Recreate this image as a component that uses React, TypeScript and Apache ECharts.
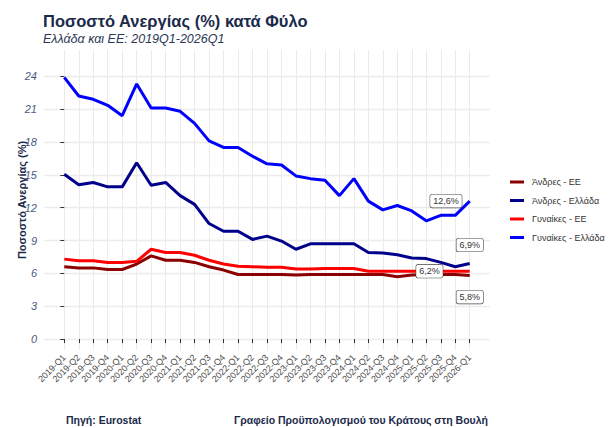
import React, { useEffect, useRef } from "react";
import * as echarts from "echarts";

const categories = [
  "2019-Q1", "2019-Q2", "2019-Q3", "2019-Q4",
  "2020-Q1", "2020-Q2", "2020-Q3", "2020-Q4",
  "2021-Q1", "2021-Q2", "2021-Q3", "2021-Q4",
  "2022-Q1", "2022-Q2", "2022-Q3", "2022-Q4",
  "2023-Q1", "2023-Q2", "2023-Q3", "2023-Q4",
  "2024-Q1", "2024-Q2", "2024-Q3", "2024-Q4",
  "2025-Q1", "2025-Q2", "2025-Q3", "2025-Q4",
  "2026-Q1",
];

const menEU = [6.6, 6.5, 6.5, 6.35, 6.35, 6.85, 7.6, 7.2, 7.2, 7.0, 6.6, 6.3, 5.9, 5.9, 5.9, 5.9, 5.85, 5.9, 5.9, 5.9, 5.9, 5.9, 5.9, 5.7, 5.85, 5.9, 5.9, 5.9, 5.8];
const menGR = [15.05, 14.1, 14.3, 13.9, 13.9, 16.1, 14.05, 14.3, 13.1, 12.3, 10.55, 9.85, 9.85, 9.1, 9.4, 8.95, 8.2, 8.7, 8.7, 8.7, 8.7, 7.9, 7.85, 7.7, 7.4, 7.35, 7.0, 6.6, 6.9];
const womenEU = [7.3, 7.15, 7.15, 7.0, 7.0, 7.1, 8.2, 7.9, 7.9, 7.65, 7.2, 6.85, 6.65, 6.6, 6.55, 6.55, 6.4, 6.4, 6.45, 6.45, 6.45, 6.2, 6.2, 6.2, 6.2, 6.2, 6.2, 6.2, 6.2];
const womenGR = [23.9, 22.2, 21.9, 21.35, 20.4, 23.3, 21.1, 21.1, 20.8, 19.7, 18.1, 17.5, 17.5, 16.7, 16.0, 15.9, 14.9, 14.65, 14.5, 13.1, 14.65, 12.6, 11.8, 12.2, 11.7, 10.8, 11.3, 11.3, 12.6];

const seriesNames = ["Άνδρες - ΕΕ", "Άνδρες - Ελλάδα", "Γυναίκες - ΕΕ", "Γυναίκες - Ελλάδα"];
const seriesColors = ["#8B0000", "#00008B", "#FF0000", "#0000FF"];
const yTicks = [0, 3, 6, 9, 12, 15, 18, 21, 24];

const FONT = "Liberation Sans, Arial, sans-serif";
const NAVY = "#1b2a4a";

const labelPlacement: any[] = [
  { position: "bottom", distance: 15 },
  { position: "top", distance: 12 },
  { position: "left", distance: 2, offset: [-25, 0] },
  { position: "left", distance: 8 },
];

function fmt(v: number) {
  return v.toFixed(1).replace(".", ",") + "%";
}

function buildData(vals: number[], k: number) {
  const last = vals.length - 1;
  return vals.map((v, i) =>
    i === last
      ? {
          value: [i, v],
          label: {
            show: true,
            ...labelPlacement[k],
            formatter: () => fmt(v),
            fontSize: 9,
            fontFamily: FONT,
            color: "#333",
            backgroundColor: "#fff",
            borderColor: "#444",
            borderWidth: 0.6,
            borderRadius: 2,
            padding: [2, 3, 2, 3],
          },
        }
      : [i, v]
  );
}

export default function App() {
  const ref = useRef<HTMLDivElement>(null);
  useEffect(() => {
    document.body.style.margin = "0";
    const chart = echarts.init(ref.current!, null, { renderer: "svg" });
    const idx = categories.map((_, i) => i);
    const all = [menEU, menGR, womenEU, womenGR];
    chart.setOption({
      animation: false,
      backgroundColor: "#fff",
      title: [
        {
          text: "Ποσοστό Ανεργίας (%) κατά Φύλο",
          left: 43,
          top: 12,
          padding: 0,
          textStyle: { fontSize: 16.5, fontWeight: "bold", color: NAVY, fontFamily: FONT },
        },
        {
          text: "Ελλάδα και ΕΕ: 2019Q1-2026Q1",
          left: 43,
          top: 32,
          padding: 0,
          textStyle: { fontSize: 12.5, fontStyle: "italic", fontWeight: "normal", color: "#2b3856", fontFamily: FONT },
        },
        {
          text: "Πηγή: Eurostat",
          left: 66,
          top: 414,
          padding: 0,
          textStyle: { fontSize: 10.5, fontWeight: "bold", color: NAVY, fontFamily: FONT },
        },
        {
          text: "Γραφείο Προϋπολογισμού του Κράτους στη Βουλή",
          left: 234,
          top: 414,
          padding: 0,
          textStyle: { fontSize: 10.5, fontWeight: "bold", color: NAVY, fontFamily: FONT },
        },
      ],
      legend: {
        orient: "vertical",
        left: 510,
        top: 176,
        icon: "rect",
        itemWidth: 14,
        itemHeight: 3,
        itemGap: 6.5,
        padding: 0,
        data: seriesNames,
        textStyle: { fontSize: 9, color: "#333", fontFamily: FONT, lineHeight: 12, padding: [0, 0, 0, 3] },
      },
      grid: { left: 44, right: 122, top: 50, bottom: 78 },
      xAxis: {
        type: "value",
        min: -1.4,
        max: 29.4,
        axisLine: { show: false },
        axisTick: { show: true, customValues: idx, length: 4, lineStyle: { color: "#333" } },
        axisLabel: {
          customValues: idx,
          rotate: 45,
          fontSize: 9,
          color: "#4d4d4d",
          fontFamily: FONT,
          margin: 6,
          formatter: (v: number) => categories[Math.round(v)] ?? "",
        },
        splitLine: { show: true, lineStyle: { color: "#ebebeb", width: 1 } },
      },
      yAxis: {
        type: "value",
        min: -1,
        max: 26.4,
        name: "Ποσοστό Ανεργίας (%)",
        nameLocation: "middle",
        nameRotate: 90,
        nameGap: 17,
        nameMoveOverlap: false,
        nameTextStyle: { fontSize: 11, fontWeight: "bold", color: NAVY, fontFamily: FONT },
        axisLine: { show: false },
        axisTick: { show: true, customValues: yTicks, length: 4, lineStyle: { color: "#333" } },
        axisLabel: {
          customValues: yTicks,
          fontSize: 11,
          fontStyle: "italic",
          color: "#4a5a7e",
          fontFamily: FONT,
          margin: 7,
        },
        splitLine: { show: true, lineStyle: { color: "#ececec", width: 1.4 } },
      },
      series: all.map((vals, k) => ({
        name: seriesNames[k],
        type: "line",
        data: buildData(vals, k),
        showSymbol: true,
        symbol: "circle",
        symbolSize: 0,
        color: seriesColors[k],
        lineStyle: { color: seriesColors[k], width: 3 },
        itemStyle: { color: seriesColors[k] },
        emphasis: { disabled: true },
        silent: true,
        z: 2 + k,
      })),
    });
    return () => chart.dispose();
  }, []);
  return <div ref={ref} style={{ width: 612, height: 428 }} />;
}
